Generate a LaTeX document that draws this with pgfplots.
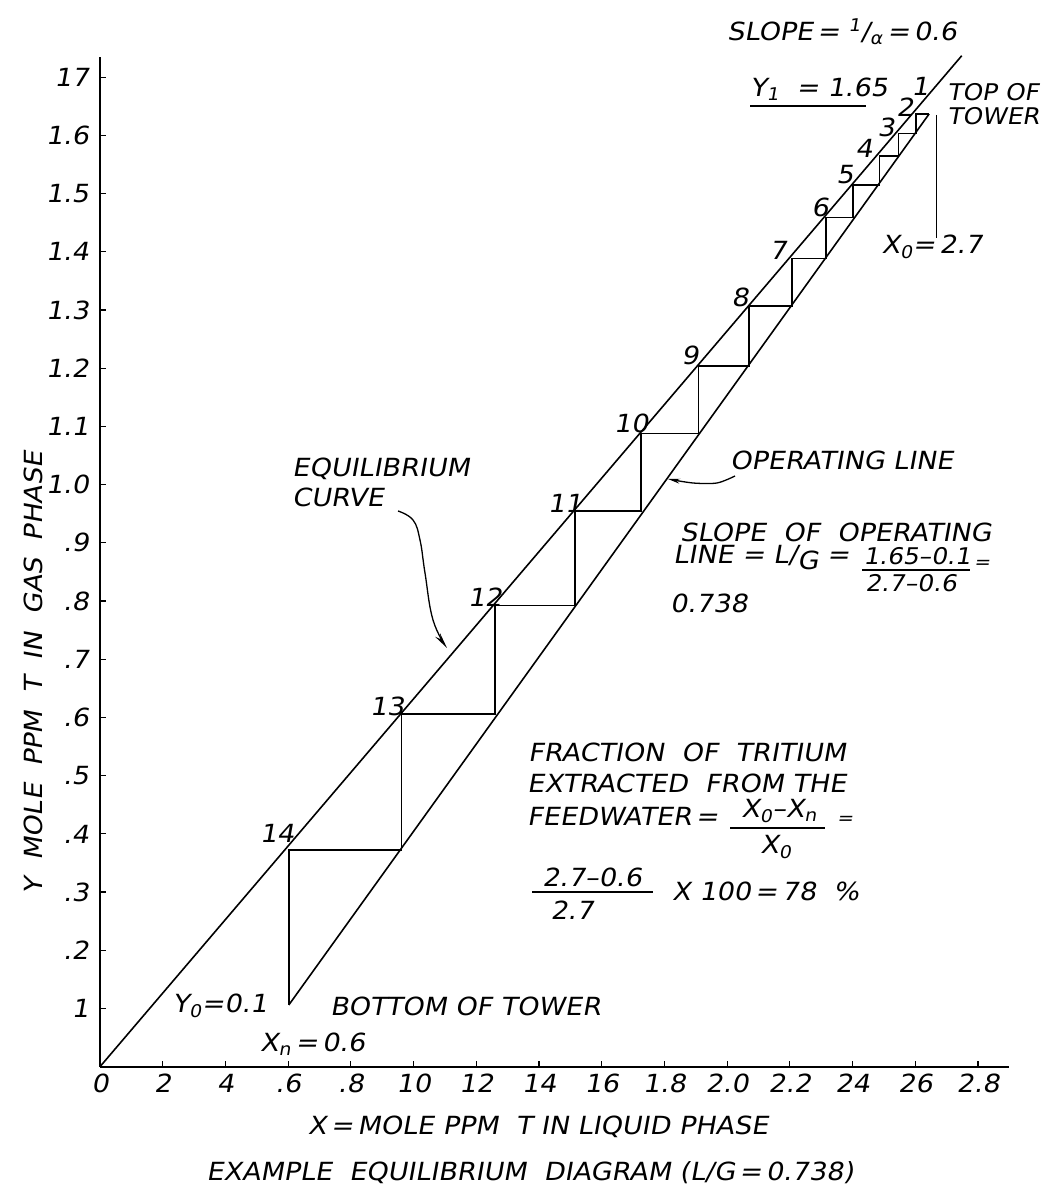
\documentclass[border=0pt]{standalone}
\usepackage{pgfplots}
\pgfplotsset{compat=1.18}
\usepackage{fontspec}
\setmainfont{DejaVu Sans}[FakeSlant=0.18, FakeStretch=1.08]
\usetikzlibrary{arrows.meta}
\newcommand{\lf}{\fontsize{25}{30}\selectfont}
\newcommand{\mf}{\fontsize{23}{26}\selectfont}
\newcommand{\sm}{\fontsize{18}{20}\selectfont}
\begin{document}
\begin{tikzpicture}[font=\lf]
\path[use as bounding box] (0,0) rectangle (1044pt,1186pt);
\begin{axis}[
  at={(100pt,119.3pt)}, anchor=south west,
  scale only axis, width=909.4pt, height=1009.8pt,
  xmin=0, xmax=2.9, ymin=0, ymax=1.735,
  axis lines=left, axis line style={-, line width=1.8pt},
  clip=false,
  xtick={0,0.2,0.4,0.6,0.8,1.0,1.2,1.4,1.6,1.8,2.0,2.2,2.4,2.6,2.8},
  xticklabels={0,2,4,.6,.8,10,12,14,16,1.8,2.0,2.2,24,26,2.8},
  ytick={0.1,0.2,0.3,0.4,0.5,0.6,0.7,0.8,0.9,1.0,1.1,1.2,1.3,1.4,1.5,1.6,1.7},
  yticklabels={1,.2,.3,.4,.5,.6,.7,.8,.9,1.0,1.1,1.2,1.3,1.4,1.5,1.6,17},
  tick align=inside, major tick length=6pt,
  tick style={line width=1.2pt, black},
  ticklabel style={font=\lf, inner sep=3pt},
  xticklabel style={yshift=-4pt},
  yticklabel style={xshift=-8pt},
]
% equilibrium curve
\addplot[black, line width=1.6pt] coordinates {(0,0) (2.748,1.737)};
% operating line
\addplot[black, line width=1.6pt] coordinates {(0.602,0.106) (2.644,1.637)};
% stages
\addplot[black, line width=1.5pt] coordinates {
(2.644,1.637) (2.602,1.637) (2.602,1.603) (2.546,1.603) (2.546,1.565)
(2.485,1.565) (2.485,1.515) (2.402,1.515) (2.402,1.459) (2.315,1.459)
(2.315,1.389) (2.206,1.389) (2.206,1.307) (2.070,1.307) (2.070,1.204)
(1.908,1.204) (1.908,1.088) (1.725,1.088) (1.725,0.955) (1.515,0.955)
(1.515,0.792) (1.260,0.792) (1.260,0.606) (0.962,0.606) (0.962,0.372)
(0.602,0.372) (0.602,0.106)};
\end{axis}
\begin{scope}[x=1pt, y=-1pt, shift={(0,1186pt)}, every node/.style={inner sep=0pt}]
% top annotations
\node at (842,32) {SLOPE\,= \textsuperscript{1}/\textsubscript{α}\,=\,0.6};
\node[anchor=west] at (750,89) {Y\textsubscript{1}\ \ = 1.65};
\draw[line width=1.5pt] (750,106) -- (866,106);
\node[anchor=north west, align=left, font=\fontsize{23}{24}\selectfont] at (947,83) {TOP OF\\TOWER};
\draw[line width=1.2pt] (936.7,115) -- (936.7,238);
\node at (932,247) {X\textsubscript{0}=\,2.7};
% stage numbers
\node at (920,86) {1};
\node at (905,107) {2};
\node at (886,127) {3};
\node at (864,148) {4};
\node at (845,175) {5};
\node at (820,207) {6};
\node at (778,250) {7};
\node at (740,297) {8};
\node at (690,355) {9};
\node at (631,423) {10};
\node at (565,503) {11};
\node at (485,597) {12};
\node at (387,706) {13};
\node at (277,833) {14};
% equilibrium curve label
\node[anchor=north west, align=left] at (292,458) {EQUILIBRIUM\\CURVE};
\draw[line width=1.3pt, -{Stealth[length=16pt, width=6pt]}] plot[smooth, tension=0.7] coordinates {(398,511) (413,520) (420,540) (425,573) (433,620) (447,648)};
% operating line label
\node[anchor=west] at (730,460) {OPERATING LINE};
\draw[line width=1.3pt, -{Stealth[length=12pt, width=5pt]}] plot[smooth] coordinates {(735,476) (717,483) (693,483) (668,479)};
\node[anchor=west] at (680,532) {SLOPE\ \ OF\ \ OPERATING};
\node[anchor=west] at (673,558) {LINE = L/\raisebox{-6pt}{G} =};
\node[font=\mf] at (917,556) {1.65–0.1};
\draw[line width=1.3pt] (862,570) -- (970,570);
\node[font=\mf] at (911,583) {2.7–0.6};
\node[font=\sm] at (982,564) {=};
\node[anchor=west] at (670,603) {0.738};
% fraction of tritium
\node[anchor=west] at (528,752) {FRACTION\ \ OF\ \ TRITIUM};
\node[anchor=west] at (527,783) {EXTRACTED\ \ FROM THE};
\node[anchor=west] at (527,816) {FEEDWATER\,=};
\node at (779,811) {X\textsubscript{0}–X\textsubscript{n}};
\draw[line width=1.3pt] (730,828) -- (825,828);
\node at (776,847) {X\textsubscript{0}};
\node[font=\sm] at (845,820) {=};
\node at (592,877) {2.7–0.6};
\draw[line width=1.3pt] (532,892) -- (653,892);
\node at (572,910) {2.7};
\node[anchor=west] at (672,891) {X 100\,=\,78\ \ \%};
% bottom annotations
\node at (220,1006) {Y\textsubscript{0}=0.1};
\node[anchor=west] at (330,1006) {BOTTOM OF TOWER};
\node[anchor=west] at (260,1044) {X\textsubscript{n}\,=\,0.6};
% axis titles and caption
\node at (538,1127) {X\,=\,MOLE PPM\ \ T IN LIQUID PHASE};
\node at (530,1173) {EXAMPLE\ \ EQUILIBRIUM\ \ DIAGRAM (L/G\,=\,0.738)};
\node[rotate=90] at (33,673) {Y\ \ MOLE\ \ PPM\ \ T\ \ IN\ \ GAS\ \ PHASE};
\end{scope}
\end{tikzpicture}
\end{document}
